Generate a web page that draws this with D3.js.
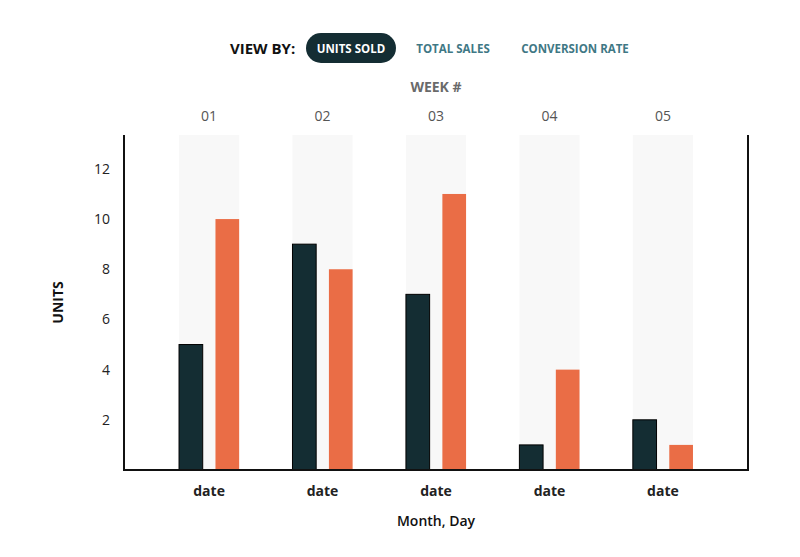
<!DOCTYPE html>
<html lang="en">
<head>
    <meta charset="UTF-8">
    <title>Units sold by week</title>
    <script src="https://d3js.org/d3.v7.min.js"></script>
    <style>
        body { margin: 0; background: #fff; }
        text { font-family: "Open Sans", "Noto Sans", sans-serif; }
    </style>
</head>
<body>
<svg id="chart"></svg>
</body>
<script>
    // chart data
    const weeks = ["01", "02", "03", "04", "05"];
    const dateLabels = ["date", "date", "date", "date", "date"];
    const seriesNames = ["current", "previous"];
    const currentValues = [5, 9, 7, 1, 2];
    const previousValues = [10, 8, 11, 4, 1];
    const yTicks = [2, 4, 6, 8, 10, 12];
    const viewOptions = ["UNITS SOLD", "TOTAL SALES", "CONVERSION RATE"];

    const width = 800, height = 557;
    const margin = {top: 135, right: 52, bottom: 87, left: 124};
    const innerW = width - margin.left - margin.right;
    const innerH = height - margin.top - margin.bottom;

    const svg = d3.select("#chart")
        .attr("width", width)
        .attr("height", height);

    // header: view-by toggles
    const header = svg.append("g");
    header.append("text")
        .attr("x", 230).attr("y", 54)
        .attr("font-size", 15).attr("font-weight", 700)
        .attr("fill", "#111")
        .text("VIEW BY:");

    const optX = [351, 453, 575];
    viewOptions.forEach((o, i) => {
        if (i === 0) {
            header.append("rect")
                .attr("x", 306).attr("y", 33)
                .attr("width", 90).attr("height", 30)
                .attr("rx", 15)
                .attr("fill", "#142d33");
        }
        header.append("text")
            .attr("x", optX[i]).attr("y", 52.5)
            .attr("text-anchor", "middle")
            .attr("font-size", 11.5).attr("font-weight", 700)
            .attr("fill", i === 0 ? "#fff" : "#3f7885")
            .text(o);
    });

    header.append("text")
        .attr("x", 436).attr("y", 92)
        .attr("text-anchor", "middle")
        .attr("font-size", 14).attr("font-weight", 700)
        .attr("fill", "#6a6a6a")
        .text("WEEK #");

    const g = svg.append("g")
        .attr("transform", `translate(${margin.left},${margin.top})`);

    const x = d3.scaleBand()
        .domain(weeks)
        .range([0, innerW])
        .paddingInner(0.47)
        .paddingOuter(0.485);

    const xSub = d3.scaleBand()
        .domain(seriesNames)
        .range([0, x.bandwidth()])
        .paddingInner(0.35);

    const y = d3.scaleLinear()
        .domain([0, 13.35])
        .range([innerH, 0]);

    // light column backgrounds
    g.selectAll(".bg")
        .data(weeks)
        .join("rect")
        .attr("class", "bg")
        .attr("x", d => x(d))
        .attr("y", 0)
        .attr("width", x.bandwidth())
        .attr("height", innerH)
        .attr("fill", "#f8f8f8");

    const rows = weeks.map((w, i) => ({
        week: w,
        values: [
            {key: "current", value: currentValues[i]},
            {key: "previous", value: previousValues[i]}
        ]
    }));

    const colors = {current: "#142d33", previous: "#ea6d46"};

    g.selectAll(".grp")
        .data(rows)
        .join("g")
        .attr("class", "grp")
        .attr("transform", d => `translate(${x(d.week)},0)`)
        .selectAll("rect")
        .data(d => d.values)
        .join("rect")
        .attr("x", d => xSub(d.key))
        .attr("y", d => y(d.value))
        .attr("width", xSub.bandwidth())
        .attr("height", d => innerH - y(d.value))
        .attr("fill", d => colors[d.key])
        .attr("stroke", d => d.key === "current" ? "#000" : "none")
        .attr("stroke-width", 1);

    // top week labels
    const xTop = d3.axisTop(x).tickSize(0).tickPadding(0);
    g.append("g")
        .attr("transform", "translate(0,-14)")
        .call(xTop)
        .call(s => s.select(".domain").remove())
        .selectAll("text")
        .attr("font-size", 14)
        .attr("fill", "#555");

    // bottom date labels
    const xBottom = d3.axisBottom(x).tickSize(0).tickPadding(16)
        .tickFormat((d, i) => dateLabels[i]);
    g.append("g")
        .attr("transform", `translate(0,${innerH})`)
        .call(xBottom)
        .call(s => s.select(".domain").remove())
        .selectAll("text")
        .attr("font-size", 14)
        .attr("font-weight", 700)
        .attr("fill", "#222");

    // y axis labels
    const yAxis = d3.axisLeft(y).tickValues(yTicks).tickSize(0).tickPadding(14);
    g.append("g")
        .call(yAxis)
        .call(s => s.select(".domain").remove())
        .selectAll("text")
        .attr("font-size", 14)
        .attr("fill", "#222");

    // frame lines: left, bottom, right
    g.append("path")
        .attr("d", `M0,0V${innerH}H${innerW}V0`)
        .attr("fill", "none")
        .attr("stroke", "#111")
        .attr("stroke-width", 2);

    // axis titles
    svg.append("text")
        .attr("transform", `translate(63,${margin.top + innerH / 2}) rotate(-90)`)
        .attr("text-anchor", "middle")
        .attr("font-size", 14).attr("font-weight", 700)
        .attr("fill", "#111")
        .text("UNITS");

    svg.append("text")
        .attr("x", margin.left + innerW / 2).attr("y", 526)
        .attr("text-anchor", "middle")
        .attr("font-size", 14).attr("font-weight", 600)
        .attr("fill", "#111")
        .text("Month, Day");
</script>
</html>
